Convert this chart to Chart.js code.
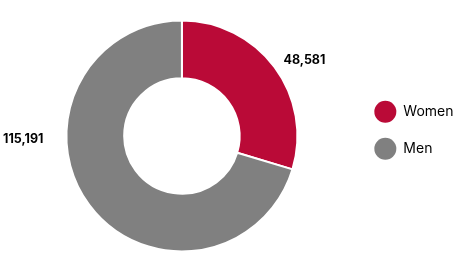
<!DOCTYPE html>
<html>
<head>
<meta charset="utf-8">
<script src="https://cdn.jsdelivr.net/npm/chart.js@4"></script>
<style>
  html, body { margin: 0; padding: 0; background: #fff; }
  #wrap { width: 475px; height: 268px; position: relative; }
</style>
</head>
<body>
<div id="wrap"><canvas id="c"></canvas></div>
<script>
const categories = ['Women', 'Men'];
const values = [48581, 115191];
const colors = ['#BA0A37', '#808080'];

const fmt = v => v.toLocaleString('en-US');

const outLabels = {
  id: 'outLabels',
  afterDatasetsDraw(chart) {
    const ctx = chart.ctx;
    const meta = chart.getDatasetMeta(0);
    ctx.save();
    ctx.font = '700 12.5px Inter';
    ctx.fillStyle = '#000';
    ctx.textBaseline = 'middle';
    meta.data.forEach((arc, i) => {
      const p = arc.getProps(['x', 'y', 'startAngle', 'endAngle', 'outerRadius'], true);
      const mid = (p.startAngle + p.endAngle) / 2;
      const cx = Math.cos(mid), cy = Math.sin(mid);
      const txt = fmt(values[i]);
      if (cx >= 0) {
        const r = p.outerRadius + 11;
        ctx.textAlign = 'left';
        ctx.fillText(txt, p.x + cx * r, p.y + cy * r);
      } else {
        ctx.textAlign = 'right';
        ctx.fillText(txt, p.x - p.outerRadius - 23, p.y + 3.5);
      }
    });
    ctx.restore();
  }
};

new Chart(document.getElementById('c'), {
  type: 'doughnut',
  data: {
    labels: categories,
    datasets: [{
      data: values,
      backgroundColor: colors,
      borderColor: '#ffffff',
      borderWidth: 2,
      hoverOffset: 0
    }]
  },
  options: {
    responsive: true,
    maintainAspectRatio: false,
    animation: false,
    cutout: '50%',
    layout: { padding: { left: 4.5, top: 19.5, bottom: 15.5, right: 11.5 } },
    plugins: {
      tooltip: { enabled: false },
      legend: {
        position: 'right',
        labels: {
          boxWidth: 22,
          boxHeight: 22,
          padding: 15,
          color: '#111',
          font: { family: 'Inter', size: 14 },
          generateLabels(chart) {
            return categories.map((c, i) => ({
              text: i === categories.length - 1 ? [c, ''] : c,
              fillStyle: colors[i],
              strokeStyle: colors[i],
              lineWidth: 0,
              borderRadius: 11,
              hidden: false,
              index: i
            }));
          }
        }
      }
    }
  },
  plugins: [outLabels]
});
</script>
</body>
</html>
